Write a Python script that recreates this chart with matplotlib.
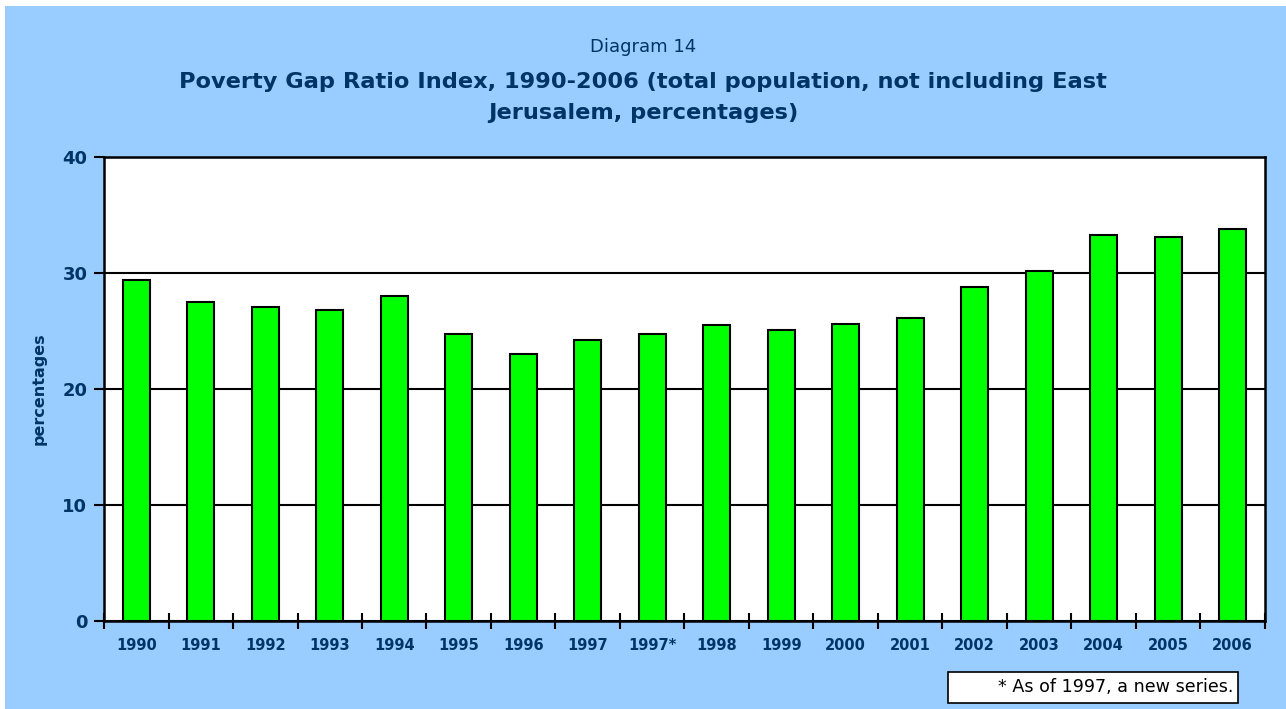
import matplotlib
matplotlib.use("Agg")
import matplotlib.pyplot as plt
from matplotlib.patches import Rectangle
import numpy as np

categories = ["1990", "1991", "1992", "1993", "1994", "1995", "1996", "1997", "1997*",
              "1998", "1999", "2000", "2001", "2002", "2003", "2004", "2005", "2006"]
values = [29.4, 27.5, 27.1, 26.8, 28.0, 24.7, 23.0, 24.2, 24.7,
          25.5, 25.1, 25.6, 26.1, 28.8, 30.2, 33.3, 33.1, 33.8]
yticks = [0, 10, 20, 30, 40]

W, H = 1286, 709
navy = "#003366"
bg = "#99CCFF"

fig = plt.figure(figsize=(W / 100, H / 100), dpi=100)
fig.patch.set_facecolor("white")
fig.add_artist(Rectangle((5 / W, 0), 1 - 5 / W, 1 - 6 / H, transform=fig.transFigure,
                         facecolor=bg, edgecolor="none", zorder=0))

ax = fig.add_axes([104 / W, (H - 621) / H, 1161 / W, 464 / H])
ax.set_facecolor("white")
x = np.arange(len(categories))
ax.bar(x, values, width=0.42, color="#00FF00", edgecolor="black", linewidth=1.5, zorder=3)
ax.set_xlim(-0.5, len(categories) - 0.5)
ax.set_ylim(0, 40)
ax.set_yticks(yticks)
ax.set_yticklabels([str(t) for t in yticks], fontsize=13, fontweight="heavy", color=navy)
ax.set_xticks(x)
ax.set_xticklabels(categories, fontsize=10.5, fontweight="heavy", color=navy)
ax.tick_params(axis="x", length=0, pad=12)
ax.set_xticks(np.arange(-0.5, len(categories)), minor=True)
ax.tick_params(axis="x", which="minor", length=12, direction="inout", width=1.5)
ax.tick_params(axis="y", length=7, width=1.5, direction="out", pad=5)
ax.yaxis.grid(True, color="black", linewidth=1.5, zorder=1)
ax.set_axisbelow(True)
for s in ax.spines.values():
    s.set_linewidth(1.8)
    s.set_color("black")
ax.set_ylabel("percentages", fontsize=11.5, fontweight="heavy", color=navy, labelpad=11)

fig.text(0.5, 1 - 47 / H, "Diagram 14", ha="center", va="center", fontsize=13, color=navy)
fig.text(0.5, 1 - 82 / H,
         "Poverty Gap Ratio Index, 1990-2006 (total population, not including East",
         ha="center", va="center", fontsize=16.2, fontweight="heavy", color=navy)
fig.text(0.5, 1 - 113 / H, "Jerusalem, percentages)",
         ha="center", va="center", fontsize=16.2, fontweight="heavy", color=navy)

fig.add_artist(Rectangle((948 / W, (H - 703) / H), 290 / W, 31 / H, transform=fig.transFigure,
                         facecolor="white", edgecolor="black", linewidth=1.2, zorder=2))
fig.text(1233 / W, (H - 687) / H, "* As of 1997, a new series.", ha="right", va="center",
         fontsize=12.6, color="black", zorder=3)

fig.savefig("out.png", dpi=100, facecolor=fig.get_facecolor())
